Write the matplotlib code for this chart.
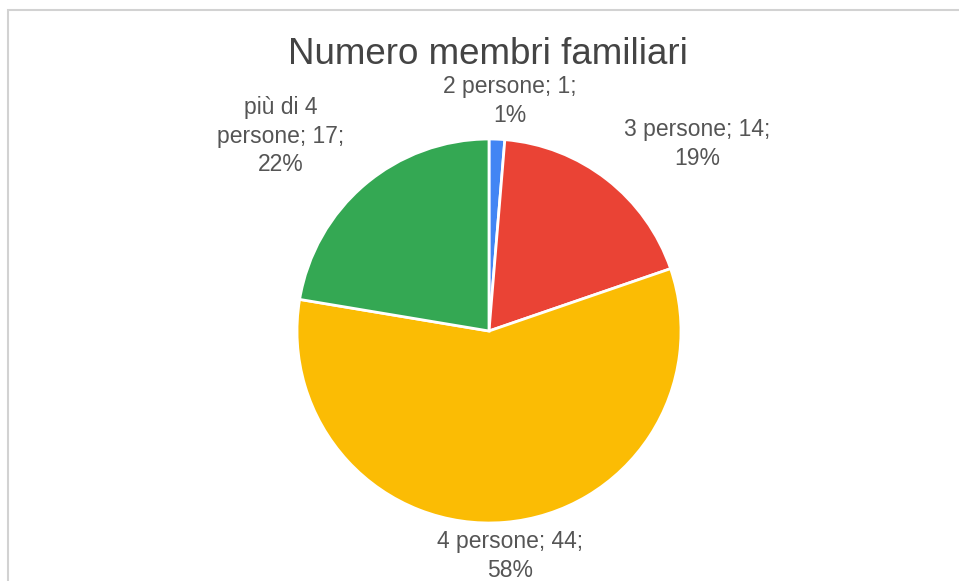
import matplotlib.pyplot as plt
from matplotlib.patches import Rectangle

# Data
categories = ['2 persone', '3 persone', '4 persone', 'più di 4 persone']
counts = [1, 14, 44, 17]
percent_labels = ['1%', '19%', '58%', '22%']
colors = ['#4285F4', '#EA4335', '#FBBC04', '#34A853']
title = 'Numero membri familiari'

W, H = 959, 581
fig = plt.figure(figsize=(W / 100, H / 100), dpi=100)
ax = fig.add_axes([0, 0, 1, 1])

# card frame
ax.add_patch(Rectangle((8, -10), W + 20, H - 10 + 10, fill=False,
                       edgecolor='#d2d2d2', linewidth=1.5))

# pie (pixel coordinates, y flipped)
cx, cy, r = 489, H - 331, 192
ax.pie(counts, colors=colors, startangle=90, counterclock=False,
       center=(cx, cy), radius=r, frame=True,
       wedgeprops=dict(edgecolor='white', linewidth=2))
ax.set_xlim(0, W)
ax.set_ylim(0, H)
ax.set_aspect('equal')
ax.axis('off')

ax.text(488, H - 64, title, ha='center', va='baseline',
        fontsize=26.5, color='#444444', family='Liberation Sans')

# label positions (pixel centers)
label_pos = [(510, 101), (697, 144), (510, 556), (281, 136)]
label_text = [
    f'{categories[0]}; {counts[0]};\n{percent_labels[0]}',
    f'{categories[1]}; {counts[1]};\n{percent_labels[1]}',
    f'{categories[2]}; {counts[2]};\n{percent_labels[2]}',
    f'più di 4\npersone; {counts[3]};\n{percent_labels[3]}',
]
for (px, py), txt in zip(label_pos, label_text):
    ax.text(px, H - py, txt, ha='center', va='center', fontsize=16.5,
            color='#555555', family='Liberation Sans', linespacing=1.3)

fig.savefig('out.png', dpi=100)
